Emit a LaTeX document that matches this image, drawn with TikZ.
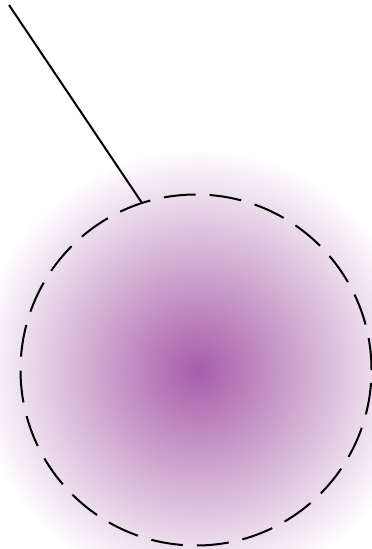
\documentclass[tikz,border=0pt]{standalone}
\usepackage{tikz}
\usetikzlibrary{shapes.geometric}
\definecolor{blobpurple}{RGB}{168,92,170}
\tikzset{membrane/.style={circle, draw=black, line width=2pt, dash pattern=on 32pt off 14pt, minimum size=351pt, inner sep=0pt}}

\begin{document}
\begin{tikzpicture}[x=1pt, y=-1pt]
\useasboundingbox (0,0) rectangle (372,549);
\clip (0,0) rectangle (372,549);
% glow
\shade[inner color=blobpurple, outer color=white] (198,370) circle (222);
% cell
\node[membrane] (cell) at (196,370) {};
\coordinate (tip) at (9,5);
\draw[line width=2pt] (tip) -- (cell.108);
\end{tikzpicture}
\end{document}
